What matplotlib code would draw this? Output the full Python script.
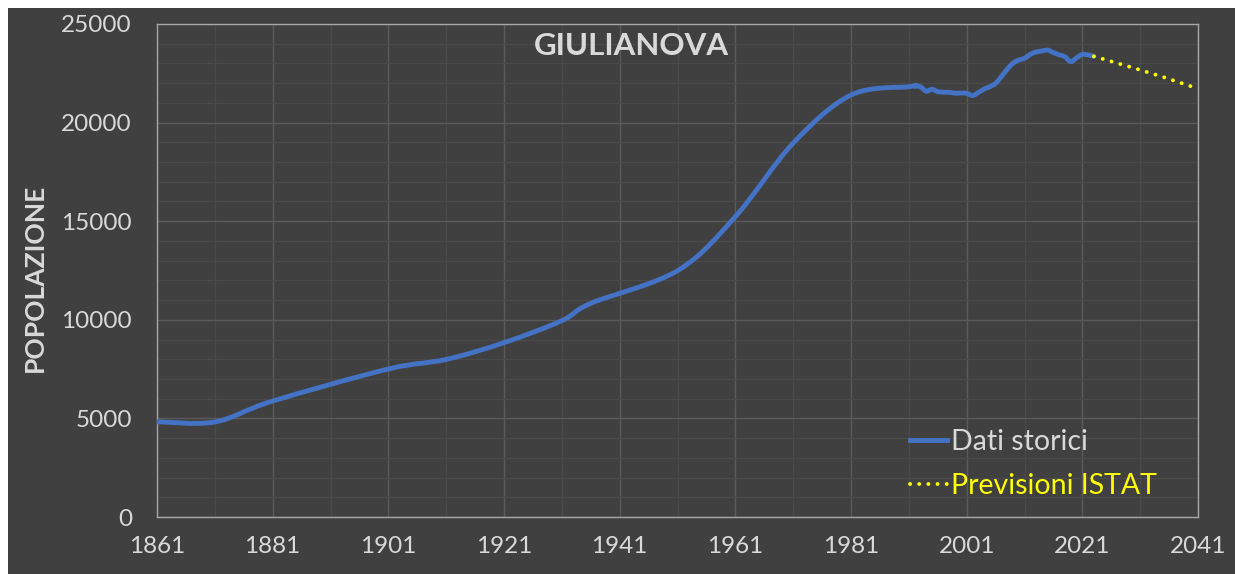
import numpy as np
import matplotlib
matplotlib.use("Agg")
import matplotlib.pyplot as plt
from matplotlib.path import Path
from matplotlib.patches import PathPatch, Rectangle
from matplotlib.lines import Line2D

plt.rcParams['font.family'] = ['Lato', 'DejaVu Sans']

# historical population (censuses, then yearly)
hist_years = [1861, 1871, 1881, 1901, 1911, 1921, 1931, 1936, 1951, 1961, 1971, 1981,
              1991, 1992, 1993, 1994, 1995, 1996, 1997, 1998, 1999, 2000,
              2001, 2002, 2003, 2004, 2005, 2006, 2007, 2008, 2009, 2010,
              2011, 2012, 2013, 2014, 2015, 2016, 2017, 2018, 2019, 2020,
              2021, 2022, 2023]
hist_pop = [4830, 4820, 5880, 7505, 7990, 8840, 9955, 10835, 12490, 15230, 18960, 21400,
            21820, 21855, 21820, 21590, 21690, 21570, 21540, 21540, 21490, 21500,
            21490, 21370, 21520, 21700, 21820, 21990, 22330, 22700, 23010, 23170,
            23260, 23460, 23580, 23630, 23680, 23550, 23440, 23340, 23090, 23280,
            23460, 23430, 23360]

# ISTAT forecast
fc_years = [2023, 2025, 2030, 2035, 2040]
fc_pop = [23360, 23190, 22760, 22310, 21820]

x_ticks = list(range(1861, 2042, 20))
y_ticks = list(range(0, 25001, 5000))

BG = '#404040'
TXT = '#d9d9d9'
BLUE = '#4472c4'
YELLOW = '#ffff00'


def smooth_path(xs, ys):
    # Excel-like smoothed line: Catmull-Rom segments as cubic Bezier curves
    pts = np.column_stack([xs, ys]).astype(float)
    n = len(pts)
    verts = [pts[0]]
    codes = [Path.MOVETO]
    for i in range(n - 1):
        p0 = pts[i - 1] if i > 0 else pts[i]
        p1 = pts[i]
        p2 = pts[i + 1]
        p3 = pts[i + 2] if i + 2 < n else pts[i + 1]
        verts += [p1 + (p2 - p0) / 6, p2 - (p3 - p1) / 6, p2]
        codes += [Path.CURVE4] * 3
    return Path(verts, codes)


W, H = 1235, 574
fig = plt.figure(figsize=(W / 100, H / 100), dpi=100, facecolor='white')
fig.patches.append(Rectangle((8 / W, 0), 1, (H - 8) / H, transform=fig.transFigure,
                             facecolor=BG, edgecolor='none', zorder=-10))

ax = fig.add_axes([157 / W, (H - 517) / H, (1198 - 157) / W, (517 - 24) / H])
ax.set_facecolor(BG)

ax.add_patch(PathPatch(smooth_path(hist_years, hist_pop), facecolor='none',
                       edgecolor=BLUE, lw=3.5, capstyle='round', joinstyle='round', zorder=3))
ax.plot(fc_years, fc_pop, color=YELLOW, lw=2.8, dashes=(0.01, 2.35),
        dash_capstyle='round', zorder=4)

ax.set_xlim(1861, 2041)
ax.set_ylim(0, 25000)
ax.set_xticks(x_ticks)
ax.set_xticks(range(1861, 2042, 10), minor=True)
ax.set_yticks(y_ticks)
ax.set_yticks(range(0, 25001, 1000), minor=True)
ax.grid(which='major', color='#5a5a5a', lw=1)
ax.grid(which='minor', color='#4a4a4a', lw=1)
ax.set_axisbelow(True)
ax.tick_params(which='both', length=0, colors=TXT, labelsize=17.5)
ax.tick_params(axis='y', pad=18)
ax.tick_params(axis='x', pad=14)
for s in ax.spines.values():
    s.set_color('#a6a6a6')
    s.set_linewidth(1)

fig.text(35 / W, 1 - 278 / H, 'POPOLAZIONE', rotation=90, ha='center', va='center',
         color=TXT, fontsize=19, fontweight='bold')
fig.text(631 / W, 1 - 46 / H, 'GIULIANOVA', ha='center', va='center',
         color=TXT, fontsize=22.5, fontweight='bold')

handles = [Line2D([], [], color=BLUE, lw=3.5),
           Line2D([], [], color=YELLOW, lw=2.8, dashes=(0.01, 2.35), dash_capstyle='round')]
leg = ax.legend(handles, ['Dati storici', 'Previsioni ISTAT'], loc='center left',
                bbox_to_anchor=((910 - 157) / 1041, (517 - 464) / 493), frameon=False,
                fontsize=20.5, handlelength=1.3, handletextpad=0.15, labelspacing=0.62,
                borderpad=0, borderaxespad=0)
leg.get_texts()[0].set_color(TXT)
leg.get_texts()[1].set_color(YELLOW)

fig.savefig('out.png', dpi=100, facecolor=fig.get_facecolor())
